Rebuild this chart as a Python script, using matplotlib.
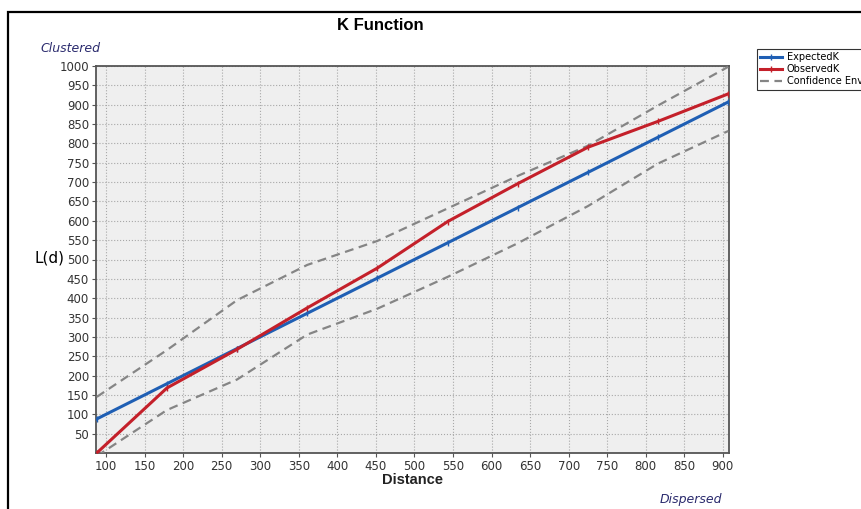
import matplotlib
matplotlib.use("Agg")
import matplotlib.pyplot as plt
from matplotlib.patches import Rectangle

# values
distance = [88, 179, 270, 361, 452, 543, 634, 725, 816, 907]
expected_k = [88, 179, 270, 361, 452, 543, 634, 725, 816, 907]
observed_k = [0, 168, 268, 375, 478, 598, 696, 790, 857, 928]
env_upper = [145, 266, 395, 486, 548, 632, 716, 794, 898, 998]
env_lower = [-8, 111, 190, 306, 373, 455, 542, 638, 748, 832]

x_ticks = list(range(100, 901, 50))
y_ticks = list(range(50, 1001, 50))

plt.rcParams['font.family'] = ['DejaVu Sans']

fig = plt.figure(figsize=(8.62, 5.09), dpi=100)
ax = fig.add_axes([96 / 862, 1 - 453 / 509, (729 - 96) / 862, (453 - 66) / 509])

# outer frame (only top and left edges fall inside the picture)
fig.patches.append(Rectangle((8 / 862, -0.1), 1.2, 1 - 12 / 509 + 0.1,
                             transform=fig.transFigure, fill=False,
                             edgecolor='black', linewidth=1.6))

ax.set_facecolor('#efefef')
ax.plot(distance, expected_k, color='#1f5fb4', lw=2.2, marker='|', ms=4,
        mew=1, label='ExpectedK', zorder=4)
ax.plot(distance, observed_k, color='#c4202a', lw=2.2, marker='|', ms=4,
        mew=1, label='ObservedK', zorder=5)
ax.plot(distance, env_upper, color='#858585', lw=1.6, ls=(0, (4, 2.5)),
        label='Confidence Env', zorder=3)
ax.plot(distance, env_lower, color='#858585', lw=1.6, ls=(0, (4, 2.5)), zorder=3)

ax.set_xlim(87, 908)
ax.set_ylim(0, 1000)
ax.set_xticks(x_ticks)
ax.set_yticks(y_ticks)
ax.tick_params(labelsize=8.5, length=3, color='#555555', labelcolor='#333333', pad=2)
ax.grid(True, color='#a8a8a8', ls=':', lw=0.8)
ax.set_axisbelow(True)
for s in ax.spines.values():
    s.set_color('#555555')
    s.set_linewidth(1.3)

ax.set_xlabel('Distance', fontsize=10.5, fontweight='bold', color='#222222',
              family='Liberation Sans', labelpad=0)
fig.text(35 / 862, 1 - 258 / 509, 'L(d)', fontsize=11, va='center', ha='left')
fig.text(380 / 862, 1 - 25 / 509, 'K Function', fontsize=12, fontweight='bold',
         family='Liberation Sans', ha='center', va='center')
fig.text(40 / 862, 1 - 48 / 509, 'Clustered', fontsize=9, style='italic',
         color='#2b2b6e', ha='left', va='center')
fig.text(660 / 862, 1 - 500 / 509, 'Dispersed', fontsize=9, style='italic',
         color='#2b2b6e', ha='left', va='center')

leg = fig.legend(loc='upper left', bbox_to_anchor=(752 / 862, 1 - 44 / 509),
                 fontsize=7, frameon=True, fancybox=False, handlelength=2.2,
                 borderpad=0.35, labelspacing=0.2, handletextpad=0.5)
leg.get_frame().set_edgecolor('black')
leg.get_frame().set_linewidth(0.8)

fig.savefig('out.png', dpi=100)
